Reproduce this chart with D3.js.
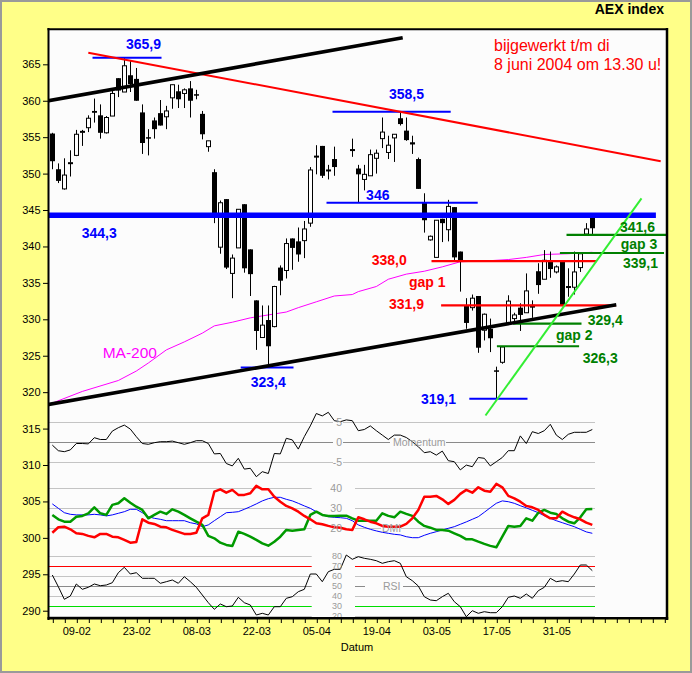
<!DOCTYPE html>
<html><head><meta charset="utf-8">
<script src="https://cdn.jsdelivr.net/npm/d3@7"></script>
<style>
html,body{margin:0;padding:0;background:#ffff88;}
svg{display:block;}
text{font-family:Arial,"Liberation Sans",sans-serif;}
</style></head><body>
<svg id="c" width="692" height="673"></svg>
<script>
// ---------------- DATA ----------------
// trading-day index 0 = 03-02-2004 ... 90 = 08-06-2004 (48,49 = Easter holidays)
const open = [355.5,350.6,347.9,351.4,352.5,355.7,356.3,358.6,358.0,355.6,
357.9,363.1,361.2,363.5,363.0,358.4,355.0,357.3,358.3,357.8,
360.4,361.3,361.0,361.7,360.9,358.2,353.7,350.2,339.9,346.5,
336.3,339.8,345.8,339.6,332.6,327.5,329.9,329.0,337.1,336.7,
341.1,340.7,340.8,343.2,352.3,353.8,350.4,352.0,null,null,
353.2,350.7,349.2,349.7,352.1,354.8,352.9,354.9,357.6,355.9,
354.3,352.0,346.0,340.9,338.5,343.8,342.3,345.4,339.3,331.9,
331.6,333.2,328.5,328.7,323.0,324.1,329.5,330.1,331.6,330.9,
332.0,336.6,335.5,338.0,336.5,337.9,334.4,334.4,337.1,341.7,344.2];
const high = [355.6,351.4,352.1,353.2,356.0,356.0,358.0,360.3,359.5,357.9,
361.4,363.1,365.9,365.5,364.5,359.5,356.1,357.7,360.1,359.3,
362.2,362.2,361.7,362.7,361.5,358.6,354.5,350.6,346.3,346.5,
338.9,345.1,345.8,339.6,332.6,331.9,331.9,334.6,337.4,341.1,
341.1,342.6,343.5,350.9,353.9,353.8,351.2,353.7,null,null,
354.8,351.2,351.2,353.3,353.3,357.7,355.2,355.4,358.5,357.7,
355.2,352.2,347.3,341.5,343.6,343.8,346.4,345.4,339.3,332.9,
333.4,333.2,330.8,330.1,323.5,326.3,333.3,330.9,332.2,336.3,
332.6,337.7,339.5,339.3,337.4,337.9,337.0,339.3,339.1,343.2,344.3];
const low = [350.6,348.7,347.8,349.6,352.4,353.8,355.7,357.0,354.8,355.5,
357.9,360.5,361.2,361.2,360.0,352.7,352.5,354.8,356.6,356.1,
358.9,359.0,359.0,357.7,360.2,354.7,353.0,343.2,339.0,336.9,
332.9,339.8,336.4,333.2,325.8,327.5,323.4,328.9,333.3,335.6,
336.8,337.9,338.4,342.7,349.9,349.4,349.2,349.7,null,null,
352.3,346.0,347.7,349.7,350.0,353.5,352.0,351.6,356.6,354.5,
352.7,347.9,341.9,340.8,338.5,340.6,340.7,338.1,333.8,328.7,
331.2,325.4,327.1,325.5,319.1,323.9,329.4,329.5,328.4,330.9,
330.2,333.5,335.5,335.7,336.3,331.8,333.1,333.4,336.5,341.6,341.6];
const close = [351.7,349.0,349.8,351.5,355.4,355.8,357.6,358.35,355.6,357.7,
361.0,361.4,364.8,362.3,360.0,354.2,354.9,356.1,356.6,358.6,
362.2,360.2,361.5,360.0,360.8,355.4,354.5,344.1,346.0,337.1,
338.4,345.1,337.0,336.2,328.4,329.2,326.3,334.5,335.3,340.4,
339.8,338.9,342.4,350.5,352.4,349.7,350.5,350.9,null,null,
353.3,349.9,349.9,352.6,352.8,355.7,353.9,355.4,356.8,354.6,
354.0,347.9,343.6,341.4,343.6,343.2,345.5,338.5,338.1,329.5,
332.9,326.1,330.7,327.4,322.8,326.2,332.5,330.6,330.6,333.9,
331.6,334.7,338.1,336.9,337.2,331.9,334.5,336.5,339.0,342.4,342.5];

// 200-day moving average (read at selected days)
const maDays = [0,5,11,14,16,19,22,25,27,30,33,36,39,41,44,47,50,51,54,56,59,62,65,68,72,76,79,82,86,90];
const maVals = [318.5,320.1,321.6,322.9,324.0,325.8,326.9,328.1,329.1,329.6,330.2,330.6,331.0,331.6,332.4,333.2,333.4,333.8,334.5,335.5,336.2,336.6,337.2,337.9,338.0,338.2,338.5,338.9,339.0,339.2];

// indicators, one value per day 0..90
const momentum = [-0.6,-2.0,-2.25,-1.8,-0.2,-0.2,-0.3,1.25,0.8,0.8,
2.9,3.75,4.4,3.4,1.5,-0.2,-0.4,0,0.25,0.25,
0.4,0,-0.4,0,0.5,0.5,-0.2,-2.8,-2.7,-5.2,
-5.8,-3.9,-6.6,-6.4,-8.5,-7.25,-7.7,-2.7,-2.8,1.1,
0.7,-1.6,1.5,4.2,7.3,6.7,7.6,5.5,5.25,5.7,
5.5,3.0,3.3,4.2,3.0,1.9,0.8,1.9,1.9,1.3,
0.25,-1.0,-2.5,-2.25,-3.1,-2.1,-4.5,-4.75,-6.8,-5.6,
-6.0,-3.7,-3.9,-5.8,-4.75,-3.7,-2.0,-2.0,1.7,-0.2,
2.75,2.3,3.0,4.6,1.9,0.8,2.1,2.6,2.6,2.6,3.3];
const dmiMinus = [17.8,20.5,20.8,19.5,17.5,17.2,16.2,15.5,17.2,17.2,
15.8,15.5,14.2,12.8,13.2,24.5,22.8,22.2,20.8,20.5,
19.2,18.2,17.2,17.2,17.8,25,26.7,38.3,39.5,37.8,
39.2,36.7,36.7,37.5,41.2,39.5,39.5,35.8,33.3,31.2,
30,28.3,26.2,24.5,22.5,22,21.2,20.5,20.3,19.5,
19.2,25.5,24.5,23.3,22.5,21.2,20.8,20.8,20.8,22.2,
25,29.2,35.8,35.8,36.2,34.5,32.2,34.2,37.2,39.2,
37.8,40.5,38.8,38.3,42.2,40.5,36.2,35,33.3,31.2,
30.5,29.2,26.7,25,25,28.3,26.7,25.5,24.5,22.8,21.7];
const dmiPlus = [26.7,24.5,23.3,23.3,25.8,26.2,27.5,30.5,27.5,26.7,
31.7,32.5,35,32.8,30.8,29.2,25,26.7,28.3,27.2,
29.5,28.3,26.7,25,23.3,21.7,16.2,15,12.8,11.7,
11.2,18.3,17.2,15.8,14.2,12.5,11.3,13.3,15.8,19.2,
18.8,19.2,19.5,26.7,28.3,26.7,26.2,26.2,26.3,26.3,
25,23.8,23.8,23.8,23.8,27.5,26.2,25.5,28.3,27.2,
26.2,23.3,21.2,20.3,19.2,19.2,18.8,17.5,16.2,14.5,
14.5,13.3,12.2,11.2,10.5,15.8,21.2,20.8,21.2,25,
23.8,27.8,29.2,27.8,27.2,25,23.3,22.5,25.5,29.5,29.7];
const adx = [32.2,30,27.8,27,26.7,26.7,26.7,27,26.7,26.2,
26.7,27.5,28.3,29.5,29.5,27.8,25.8,25,24.5,23.8,
23.8,23.8,23.8,22.8,22.2,20.8,21.7,23.8,25.8,27.8,
28,28.3,29.5,30.8,32.2,33.7,34.8,35.5,35.5,34.5,
33.7,32.5,31.2,30,28.3,26.7,25.8,25.5,25.3,25,
23.8,21.7,20.5,19.5,18.7,18,17.5,17,16.7,15.8,
15.3,15.3,16.5,17.5,18.3,19.2,20,20.8,22,23.2,
24.5,25.8,28,30.3,32.5,33.7,33.3,32.5,31.3,30.2,
29,27.8,26.3,25,23.8,22.8,21.8,20.8,19.5,18.2,17.5];
const rsi = [61,49.3,36.7,40,52,46.7,48.7,52,50.3,51,
53.3,63.3,68.7,62,63.3,57.7,57.7,57.7,52.7,54.3,
56,52.7,59.3,54.3,48.7,41,33.3,26.7,32,29.3,
30,38.7,33.3,31,21,22.7,21,29.3,29.3,37.7,
39.3,44.3,46.7,62,62,54.3,64.3,66.7,66.7,81,
76.7,79.3,77.7,76.7,75.3,72.7,74.3,75.3,72.7,59.3,
55.3,50,39.3,36,35.3,39.3,42.7,34.3,29.3,19.3,
25.3,22.7,24.3,23.3,23.3,29.3,38.7,40,37.7,42,
37.7,45.3,48.7,57.7,54.3,55.3,54.3,62,71,71,65.3];

// horizontal levels
const levelValues = [365.9, 358.5, 346.0, 344.3, 323.4, 319.1, 338.0, 331.9, 341.6, 339.1, 329.4, 326.3];
const levelFrom   = [6.7, 46.7, 45.7, -0.72, 31.4, 69.5, 63.2, 64.8, 85.7, 84.6, 76.8, 74.1];
const levelTo     = [18.2, 66.4, 70.9, 100.6, 40.2, 79.2, 90.7, 93.95, 102.3, 101.95, 88.2, 87.8];
const levelGroup  = ["blue","blue","blue","blueMain","blue","blue","red","red","green","green","green","green"];

// trend lines [day, value]
const trendLines = [
  {kind:"red",   pts:[[6,366.6],[101.4,351.7]]},
  {kind:"black", pts:[[-0.72,360.0],[58.4,368.65]]},
  {kind:"black", pts:[[-0.72,318.3],[94,332.0]]},
  {kind:"lime",  pts:[[72.2,316.8],[98.2,346.6]]}
];

// annotations (text, day, value)
const annText  = ["365,9","358,5","346","344,3","323,4","319,1","338,0","gap 1","331,9","341,6","gap 3","339,1","329,4","gap 2","326,3"];
const annDay   = [12.28,56.1,52.3,4.9,33.07,61.45,53.23,59.45,56.12,94.62,94.73,95.12,89.23,83.95,88.4];
const annValue = [367.06,360.24,346.37,341.16,320.7,318.37,337.45,334.43,331.41,342.05,339.7,337.04,329.22,327.16,324.0];
const annGroup = ["blue","blue","blue","blue","blue","blue","red","red","red","green","green","green","green","green","green"];

const priceTicks = d3.range(290, 366, 5);
const dateTickDays = [4,14,24,34,44,54,64,74,84];
const dateTickLabels = ["09-02","23-02","08-03","22-03","05-04","19-04","03-05","17-05","31-05"];
const momGrid = [5,0,-5], dmiGrid = [40,30,20], rsiGrid = [80,70,60,50,40,30,20];

// ---------------- DRAW ----------------
const W=692,H=673;
const svg=d3.select("#c");
const BG="#fcfcfc";
svg.append("rect").attr("width",W).attr("height",H).attr("fill","#ffff88");
svg.append("rect").attr("x",1).attr("y",1).attr("width",W-2).attr("height",H-2)
  .attr("fill","none").attr("stroke","#9a9a9a").attr("stroke-width",2);

const x=d3.scaleLinear().domain([-0.72,102.45]).range([48,667]);
const y=d3.scaleLinear().domain([289,370]).range([618,27.9]);
const yMom=d3.scaleLinear().domain([-5,5]).range([462.7,422.7]);
const yDmi=d3.scaleLinear().domain([20,40]).range([528.3,488.3]);
const yRsi=d3.scaleLinear().domain([20,80]).range([616,556]);

svg.append("rect").attr("x",48).attr("y",29).attr("width",619).attr("height",589).attr("fill",BG);
svg.append("clipPath").attr("id","clip").append("rect").attr("x",49).attr("y",30).attr("width",617).attr("height",587);
const g=svg.append("g").attr("clip-path","url(#clip)");

const days=d3.range(open.length);
const lastDay=days[days.length-1];
const gx0=x.range()[0], gx1=x(lastDay)+2.7;

// gridlines
function grid(vals, sc, colorFn){
  vals.forEach(v=>{
    g.append("line").attr("x1",gx0).attr("x2",gx1).attr("y1",sc(v)).attr("y2",sc(v))
      .attr("stroke",colorFn(v)).attr("stroke-width",1).attr("shape-rendering","crispEdges");
  });
}
grid(momGrid,yMom,v=>v===0?"#8a8a8a":"#c4c4c4");
grid(dmiGrid,yDmi,()=>"#c4c4c4");
grid(rsiGrid,yRsi,v=>v===50?"#8a8a8a":v===70?"#ff0000":v===30?"#00dd00":"#c4c4c4");

// label masks
const masks=[[333,416,10,54],[311.7,482,43.3,136],[390,436,56,12],[381,522,20,12],[365,580,38,12]];
masks.forEach(m=>g.append("rect").attr("x",m[0]).attr("y",m[1]).attr("width",m[2]).attr("height",m[3]).attr("fill",BG));

const lblG=svg.append("g").attr("fill","#9a9a9a").attr("font-size","10.5px").attr("text-anchor","end");
momGrid.forEach(v=>lblG.append("text").attr("x",342).attr("y",yMom(v)).attr("dy","0.36em").text(v));
dmiGrid.forEach(v=>lblG.append("text").attr("x",342).attr("y",yDmi(v)).attr("dy","0.36em").text(v));
rsiGrid.forEach(v=>lblG.append("text").attr("x",342).attr("y",yRsi(v)).attr("dy","0.36em").attr("font-size","9px").text(v));
lblG.append("text").attr("x",393).attr("y",yMom(0)).attr("dy","0.36em").attr("text-anchor","start").text("Momentum");
lblG.append("text").attr("x",382).attr("y",yDmi(20)).attr("dy","0.36em").attr("text-anchor","start").text("DMI");
lblG.append("text").attr("x",383).attr("y",yRsi(50)).attr("dy","0.36em").attr("text-anchor","start").text("RSI");

// indicator curves
function curve(arr, sc, color, w){
  g.append("path").datum(arr.map((v,i)=>[i,v]))
    .attr("d",d3.line().x(d=>x(d[0])).y(d=>sc(d[1])))
    .attr("fill","none").attr("stroke",color).attr("stroke-width",w).attr("stroke-linejoin","round");
}
curve(momentum,yMom,"#000",1);
curve(adx,yDmi,"#0000ff",1);
curve(dmiPlus,yDmi,"#009a00",2.5);
curve(dmiMinus,yDmi,"#ff0000",2.5);
curve(rsi,yRsi,"#000",1);

// MA-200
g.append("path").datum(maDays.map((d,i)=>[d,maVals[i]]))
  .attr("d",d3.line().x(d=>x(d[0])).y(d=>y(d[1])))
  .attr("fill","none").attr("stroke","#ff00ff").attr("stroke-width",1);

// candles
const cg=g.append("g");
days.forEach(i=>{
  if(open[i]==null) return;
  const cx=Math.round(x(i))+0.5;
  cg.append("line").attr("x1",cx).attr("x2",cx).attr("y1",y(high[i])).attr("y2",y(low[i]))
    .attr("stroke","#000").attr("stroke-width",1);
  const top=y(Math.max(open[i],close[i])), bot=y(Math.min(open[i],close[i]));
  const bear=close[i]<open[i];
  if(bear){
    cg.append("rect").attr("x",cx-2.5).attr("y",top).attr("width",5).attr("height",Math.max(1.5,bot-top)).attr("fill","#000");
  } else {
    cg.append("rect").attr("x",cx-2).attr("y",top).attr("width",4).attr("height",Math.max(1,bot-top))
      .attr("fill","#fff").attr("stroke","#000").attr("stroke-width",1);
  }
});

// levels
const levelStyle={blue:{c:"#0000ff",w:2},blueMain:{c:"#0000ff",w:5.5},red:{c:"#ff0000",w:2.2},green:{c:"#008000",w:2.2}};
levelValues.forEach((v,i)=>{
  const s=levelStyle[levelGroup[i]];
  g.append("line").attr("x1",x(levelFrom[i])).attr("x2",x(levelTo[i])).attr("y1",y(v)).attr("y2",y(v))
    .attr("stroke",s.c).attr("stroke-width",s.w);
});

// trend lines
const trendStyle={red:{c:"#ff0000",w:2},black:{c:"#000",w:3.6},lime:{c:"#33ee33",w:2}};
trendLines.forEach(t=>{
  const s=trendStyle[t.kind];
  g.append("line").attr("x1",x(t.pts[0][0])).attr("y1",y(t.pts[0][1]))
    .attr("x2",x(t.pts[1][0])).attr("y2",y(t.pts[1][1]))
    .attr("stroke",s.c).attr("stroke-width",s.w);
});

// annotations
const annColor={blue:"#0000ff",red:"#ff0000",green:"#008000"};
annText.forEach((t,i)=>{
  svg.append("text").attr("x",x(annDay[i])).attr("y",y(annValue[i]))
    .attr("fill",annColor[annGroup[i]]).attr("font-size","14px").attr("font-weight","bold").text(t);
});
svg.append("text").attr("x",x(8.4)).attr("y",y(324.69)).attr("fill","#ff00ff").attr("font-size","15.5px").text("MA-200");

svg.append("text").attr("x",494).attr("y",51).attr("fill","#ff0000").attr("font-size","16px").text("bijgewerkt t/m di");
svg.append("text").attr("x",494).attr("y",69.5).attr("fill","#ff0000").attr("font-size","16px").text("8 juni 2004 om 13.30 u!");
svg.append("text").attr("x",664).attr("y",13.5).attr("text-anchor","end").attr("font-size","14px").attr("font-weight","bold").text("AEX index");

// axes
const yAxis=svg.append("g").attr("transform","translate(48,0)")
  .call(d3.axisLeft(y).tickValues(priceTicks).tickSize(5).tickPadding(2.5));
yAxis.select(".domain").remove();
yAxis.selectAll("text").attr("font-size","11px").attr("font-family","Arial, Liberation Sans, sans-serif").attr("fill","#000");

const labelMap={}; dateTickDays.forEach((d,i)=>labelMap[d]=dateTickLabels[i]);
const xAxis=svg.append("g").attr("transform","translate(0,618)")
  .call(d3.axisBottom(x).tickValues(d3.range(0,103,2)).tickSize(5).tickPadding(4.5).tickFormat(d=>labelMap[d]||""));
xAxis.select(".domain").remove();
xAxis.selectAll("text").attr("font-size","11px").attr("font-family","Arial, Liberation Sans, sans-serif").attr("fill","#000");
xAxis.selectAll("line").attr("transform","translate(0.5,0)");
svg.append("text").attr("x",357).attr("y",650.5).attr("text-anchor","middle").attr("font-size","11px").text("Datum");

// frame
svg.append("line").attr("x1",48.5).attr("x2",48.5).attr("y1",28).attr("y2",620).attr("stroke","#000").attr("stroke-width",2);
svg.append("line").attr("x1",47.5).attr("x2",668).attr("y1",29.2).attr("y2",29.2).attr("stroke","#000").attr("stroke-width",2);
svg.append("line").attr("x1",667).attr("x2",667).attr("y1",28).attr("y2",620).attr("stroke","#000").attr("stroke-width",2.5);
svg.append("line").attr("x1",47.5).attr("x2",668.2).attr("y1",618.3).attr("y2",618.3).attr("stroke","#000").attr("stroke-width",2.5);
</script></body></html>
